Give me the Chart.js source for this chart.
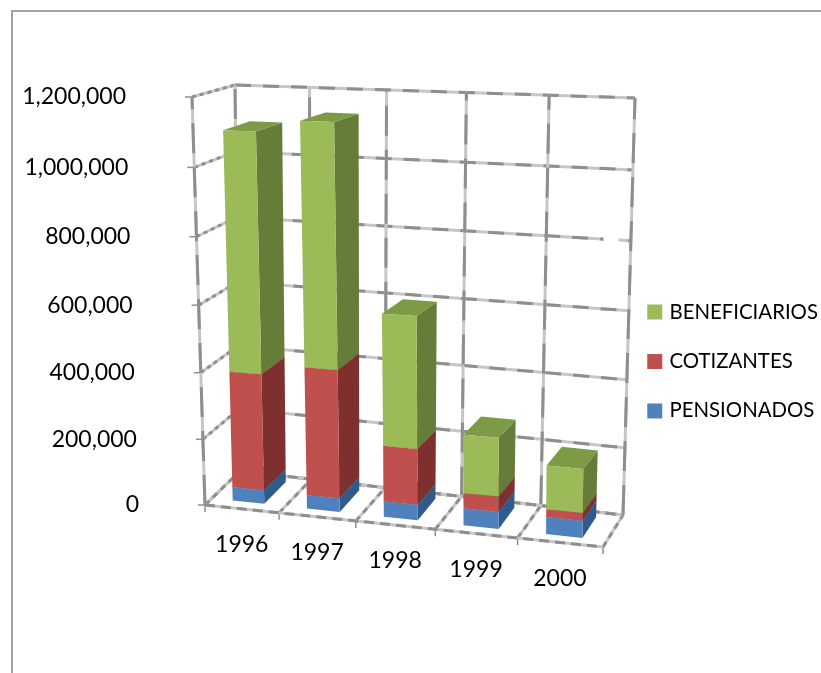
<!DOCTYPE html>
<html>
<head>
<meta charset="utf-8">
<script src="https://cdn.jsdelivr.net/npm/chart.js@4"></script>
<style>
html, body { margin: 0; padding: 0; background: #fff; overflow: hidden; }
#frame { position: absolute; left: 11px; top: 10px; width: 830px; height: 690px; border: 2px solid #a3a3a3; }
#cv { position: absolute; left: 0; top: 0; filter: blur(0.5px); }
</style>
</head>
<body>
<div id="frame"></div>
<canvas id="cv" width="821" height="673"></canvas>
<script>
var years = ["1996", "1997", "1998", "1999", "2000"];
var pensionados = [41000, 41000, 46000, 50000, 50000];
var cotizantes = [351000, 382000, 165000, 45000, 22000];
var beneficiarios = [708000, 711000, 385000, 170000, 126000];

var fontName = "Lato, 'Open Sans', sans-serif";

// coins de la boite 3D a l'ecran (avant/arriere, bas/haut, gauche/droite)
var box = {
  fbl: [205, 505], fbr: [603, 547], ftl: [192, 97], ftr: [607, 108],
  bbl: [240, 471], bbr: [623, 515], btl: [235, 85], btr: [635, 98]
};
var depthFront = 0.2, depthBack = 0.85;

function warp(t, a) { return a * t / (1 + (a - 1) * t); }
function mix(a, b, t) { return [a[0] + (b[0] - a[0]) * t, a[1] + (b[1] - a[1]) * t]; }

// u, v, d entre 0 et 1 : position horizontale, hauteur, profondeur
function project(u, v, d) {
  var uu = warp(u, 0.915), vv = warp(v, 0.96);
  var front = mix(mix(box.fbl, box.fbr, uu), mix(box.ftl, box.ftr, uu), vv);
  var back = mix(mix(box.bbl, box.bbr, uu), mix(box.btl, box.btr, uu), vv);
  return mix(front, back, d);
}

function gridLine(ctx, a, b, dash) {
  ctx.save();
  ctx.lineWidth = 3;
  ctx.strokeStyle = "#c6c6c6";
  ctx.beginPath(); ctx.moveTo(a[0], a[1]); ctx.lineTo(b[0], b[1]); ctx.stroke();
  ctx.strokeStyle = "#8e8e8e";
  ctx.setLineDash(dash);
  ctx.beginPath(); ctx.moveTo(a[0], a[1]); ctx.lineTo(b[0], b[1]); ctx.stroke();
  ctx.restore();
}

function face(ctx, pts, color) {
  ctx.fillStyle = color;
  ctx.beginPath();
  pts.forEach(function(p, i) { if (i == 0) ctx.moveTo(p[0], p[1]); else ctx.lineTo(p[0], p[1]); });
  ctx.closePath();
  ctx.fill();
}

var wall3d = {
  id: "wall3d",
  beforeDatasetsDraw: function(chart) {
    var ctx = chart.ctx, area = chart.chartArea, sx = chart.scales.x, sy = chart.scales.y;
    function uOf(px) { return (px - area.left) / area.width; }
    function vOf(py) { return (area.bottom - py) / area.height; }

    // quadrillage horizontal : mur gauche + mur du fond
    sy.ticks.forEach(function(t) {
      var v = vOf(sy.getPixelForValue(t.value));
      gridLine(ctx, project(0, v, 0), project(0, v, 1), [4, 4]);
      gridLine(ctx, project(0, v, 1), project(1, v, 1), [16, 12]);
      var f = project(0, v, 0);
      ctx.strokeStyle = "#8e8e8e"; ctx.lineWidth = 1.5;
      ctx.beginPath(); ctx.moveTo(f[0] - 7, f[1]); ctx.lineTo(f[0], f[1]); ctx.stroke();
      ctx.fillStyle = "#000";
      ctx.font = "23px " + fontName;
      ctx.textAlign = "right"; ctx.textBaseline = "middle";
      ctx.fillText(t.label, f[0] - 66, f[1]);
    });

    // verticales du fond, lignes du sol
    for (var i = 0; i <= years.length; i++) {
      var u = uOf(sx.getPixelForValue(i - 0.5));
      gridLine(ctx, project(u, 0, 1), project(u, 1, 1), [30, 14]);
      gridLine(ctx, project(u, 0, 0), project(u, 0, 1), [6, 5]);
      var f = project(u, 0, 0);
      ctx.strokeStyle = "#8e8e8e"; ctx.lineWidth = 1.5;
      ctx.beginPath(); ctx.moveTo(f[0], f[1]); ctx.lineTo(f[0], f[1] + 7); ctx.stroke();
    }
    gridLine(ctx, project(0, 0, 0), project(0, 1, 0), [30, 14]);
    gridLine(ctx, project(0, 0, 0), project(1, 0, 0), [10, 6]);
    gridLine(ctx, project(0, 0, 1), project(1, 0, 1), [10, 6]);

    // trou dans la ligne 800,000 du fond, comme sur l'original
    var vGap = vOf(sy.getPixelForValue(800000));
    var g0 = project(0.936, vGap, 1), g1 = project(0.971, vGap, 1);
    ctx.strokeStyle = "#fff"; ctx.lineWidth = 5;
    ctx.beginPath(); ctx.moveTo(g0[0], g0[1]); ctx.lineTo(g1[0], g1[1]); ctx.stroke();

    // etiquettes de l'axe des annees
    sx.ticks.forEach(function(t, i) {
      var c = project(uOf(sx.getPixelForValue(i)), 0, 0);
      ctx.fillStyle = "#000";
      ctx.font = "23px " + fontName;
      ctx.textAlign = "center"; ctx.textBaseline = "middle";
      ctx.fillText(years[i], c[0], c[1] + 36);
    });

    // barres : pris dans les elements calcules par Chart.js, puis projetes
    years.forEach(function(y, j) {
      chart.data.datasets.forEach(function(ds, k) {
        var el = chart.getDatasetMeta(k).data[j];
        var u0 = uOf(el.x - el.width / 2), u1 = uOf(el.x + el.width / 2);
        var v0 = vOf(el.base), v1 = vOf(el.y);
        face(ctx, [project(u1, v0, depthFront), project(u1, v0, depthBack), project(u1, v1, depthBack), project(u1, v1, depthFront)], ds.sideColor);
        face(ctx, [project(u0, v1, depthFront), project(u1, v1, depthFront), project(u1, v1, depthBack), project(u0, v1, depthBack)], ds.topColor);
        face(ctx, [project(u0, v0, depthFront), project(u1, v0, depthFront), project(u1, v1, depthFront), project(u0, v1, depthFront)], ds.backgroundColor);
      });
    });
    return false; // les barres plates par defaut ne sont pas dessinees
  }
};

new Chart(document.getElementById("cv"), {
  type: "bar",
  data: {
    labels: years,
    datasets: [
      { label: "PENSIONADOS", data: pensionados, backgroundColor: "#4f81bd", borderColor: "#4f81bd", borderWidth: 6, sideColor: "#2f5a8c", topColor: "#3f6a9e" },
      { label: "COTIZANTES", data: cotizantes, backgroundColor: "#c0504d", borderColor: "#c0504d", borderWidth: 6, sideColor: "#7d302e", topColor: "#9c403d" },
      { label: "BENEFICIARIOS", data: beneficiarios, backgroundColor: "#9bbb59", borderColor: "#9bbb59", borderWidth: 6, sideColor: "#667d3a", topColor: "#7d9a47" }
    ]
  },
  options: {
    responsive: false,
    animation: false,
    locale: "en-US",
    layout: { padding: { top: 50, right: -7 } },
    datasets: { bar: { categoryPercentage: 1, barPercentage: 0.43 } },
    scales: {
      x: { stacked: true, grid: { display: false }, border: { display: false }, ticks: { display: false } },
      y: { stacked: true, min: 0, max: 1200000, grid: { display: false }, border: { display: false }, ticks: { display: false, stepSize: 200000 } }
    },
    plugins: {
      tooltip: { enabled: false },
      legend: {
        position: "right",
        reverse: true,
        labels: { boxWidth: 9, boxHeight: 9, padding: 29, color: "#000", font: { family: fontName, size: 20.4 } }
      }
    }
  },
  plugins: [wall3d]
});
</script>
</body>
</html>
